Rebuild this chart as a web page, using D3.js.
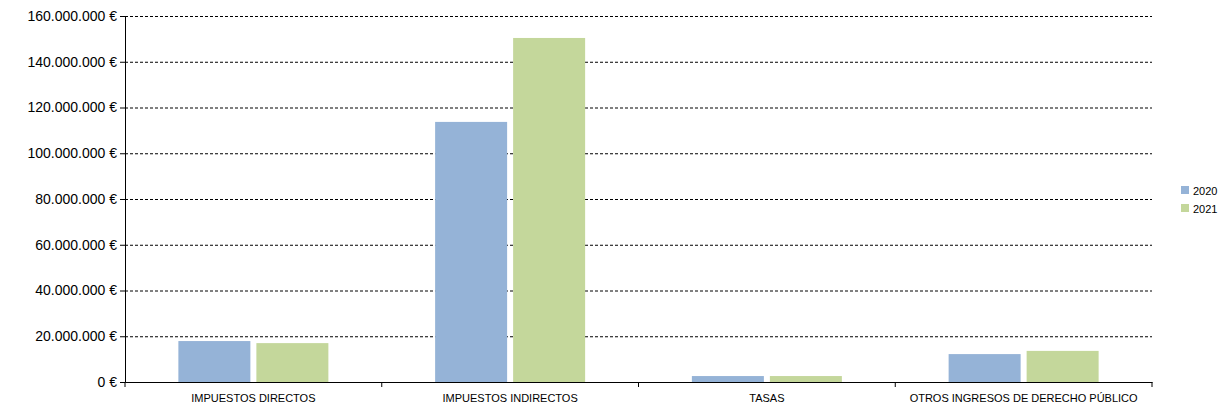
<!DOCTYPE html>
<html><head><meta charset="utf-8">
<script src="https://cdn.jsdelivr.net/npm/d3@7"></script>
<style>body{margin:0;background:#fff}svg{font-family:Arial,"Liberation Sans",sans-serif}</style>
</head><body><svg id="chart"></svg>
<script>
const width = 1225, height = 411;
const categories = ['IMPUESTOS DIRECTOS', 'IMPUESTOS INDIRECTOS', 'TASAS', 'OTROS INGRESOS DE DERECHO PÚBLICO'];
const years = ['2020', '2021'];
const values2020 = [17900000, 113700000, 2600000, 12200000];
const values2021 = [17000000, 150400000, 2600000, 13600000];
const colors = ['#95b3d7', '#c4d79b'];
const yTicks = [0, 20e6, 40e6, 60e6, 80e6, 100e6, 120e6, 140e6, 160e6];

const svg = d3.select('#chart').attr('width', width).attr('height', height);
const plotLeft = 125, plotRight = 1152, plotTop = 16, plotBottom = 382;

const x = d3.scaleBand().domain(categories).range([plotLeft, plotRight]);
const y = d3.scaleLinear().domain([0, 160e6]).range([plotBottom, plotTop]);

const fmt = v => (v === 0 ? '0' : d3.format(',')(v).replace(/,/g, '.')) + ' €';

// gridlines
svg.append('g').selectAll('line').data(yTicks.slice(1)).enter().append('line')
    .attr('x1', plotLeft).attr('x2', plotRight)
    .attr('y1', d => y(d) + 0.5).attr('y2', d => y(d) + 0.5)
    .attr('stroke', '#000').attr('stroke-dasharray', '3,2').attr('stroke-width', 1);

// y axis
const yAxis = svg.append('g').attr('transform', `translate(${plotLeft},0)`)
    .call(d3.axisLeft(y).tickValues(yTicks).tickFormat(fmt).tickSize(5));
yAxis.selectAll('text').attr('font-size', 14).attr('fill', '#000');
yAxis.selectAll('line,path').attr('stroke', '#000');

// x axis
const xAxis = svg.append('g').attr('transform', `translate(0,${plotBottom})`)
    .call(d3.axisBottom(x).tickSize(0).tickPadding(12));
xAxis.select('path').attr('stroke', '#000');
xAxis.selectAll('text').attr('font-size', 11).attr('fill', '#000');
xAxis.selectAll('.sep').data(categories.concat(['end'])).enter().append('line')
    .attr('x1', (d, i) => plotLeft + i * x.bandwidth()).attr('x2', (d, i) => plotLeft + i * x.bandwidth())
    .attr('y1', 0).attr('y2', 5).attr('stroke', '#000');

const bw = 72, gap = 6;
[values2020, values2021].forEach((vals, s) => {
    svg.append('g').selectAll('rect').data(vals).enter().append('rect')
        .attr('x', (d, i) => x(categories[i]) + x.bandwidth() / 2 - bw - gap / 2 + s * (bw + gap))
        .attr('y', d => y(d))
        .attr('width', bw)
        .attr('height', d => plotBottom - y(d))
        .attr('fill', colors[s]);
});

// legend
const lg = svg.append('g').attr('transform', 'translate(1181,186)');
years.forEach((yr, i) => {
    lg.append('rect').attr('x', 0).attr('y', i * 18).attr('width', 8).attr('height', 8).attr('fill', colors[i]);
    lg.append('text').attr('x', 12).attr('y', i * 18 + 8.5).attr('font-size', 11).text(yr);
});
</script></body></html>
